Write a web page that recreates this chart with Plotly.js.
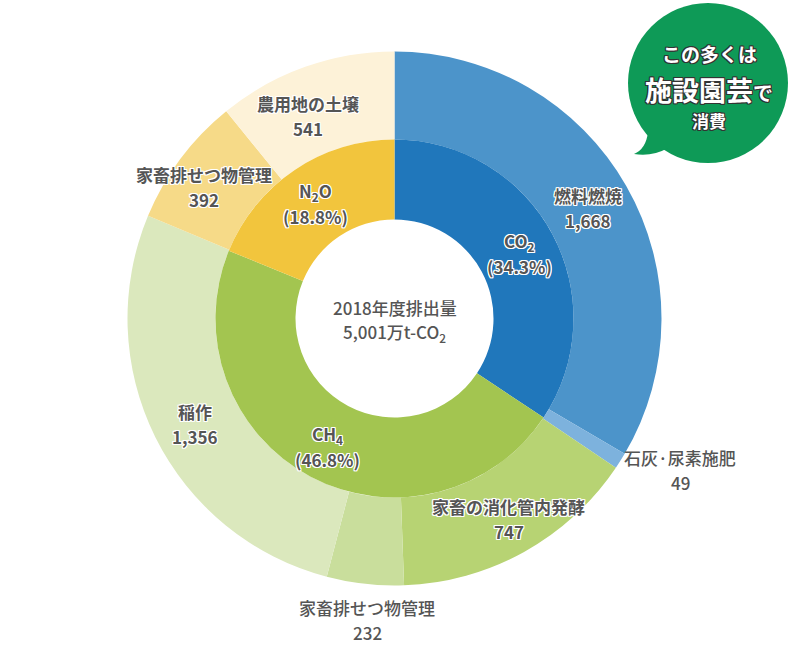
<!DOCTYPE html>
<html><head><meta charset="utf-8">
<script src="https://cdn.plot.ly/plotly-3.0.1.min.js"></script>
<style>html,body{margin:0;padding:0;background:#fff}</style>
</head><body><div id="chart" style="width:790px;height:650px"></div>
<script>
// ---- data ----
const gasLabels = ['CO<sub>2</sub>', 'CH<sub>4</sub>', 'N<sub>2</sub>O'];
const gasShares = [34.3, 46.8, 18.8];
const sourceLabels = ['燃料燃焼', '石灰·尿素施肥', '家畜の消化管内発酵', '家畜排せつ物管理', '稲作', '家畜排せつ物管理', '農用地の土壌'];
const sourceValues = [1668, 49, 747, 232, 1356, 392, 541];
const centerLines = ['2018年度排出量', '5,001万t-CO<sub>2</sub>'];
const bubbleLines = ['この多くは', '施設園芸<span style="font-size:20px">で</span>', '消費'];

// ---- styles / geometry ----
const gasColors = ['#2077bb', '#a3c550', '#f2c53d'];
const sourceColors = ['#4c94ca', '#7db2dd', '#b7d373', '#c9de9c', '#dbe8bd', '#f6da88', '#fdf2d8'];
const W = 790, H = 650, cx = 394.5, cy = 318.5, Rout = 267, Rmid = 179, Rin = 99;
const textColor = '#555555';
const FONT = '"Noto Sans CJK JP", "Noto Sans", sans-serif';
const WEIGHT = 'bold';
const halo = '1px 1px 0 #fff, -1px -1px 0 #fff, 1px -1px 0 #fff, -1px 1px 0 #fff, 0 1px 0 #fff, 0 -1px 0 #fff, 1px 0 0 #fff, -1px 0 0 #fff';
// outside labels (index -> pixel centre)
const outsideLabelPos = {1: [680, 470], 3: [367, 620]};
// small nudges of inside labels (index -> [dx, dy] px)
const labelNudge = {6: [-12, 8], 5: [-12, 2], 4: [0, 7], 2: [6, 6]};

function dom(r) {
  return {x: [(cx - r) / W, (cx + r) / W], y: [1 - (cy + r) / H, 1 - (cy - r) / H]};
}
const px = x => x / W, py = y => 1 - y / H;

const outer = {
  type: 'pie', values: sourceValues, labels: sourceValues.map((v, i) => 's' + i),
  sort: false, direction: 'clockwise', rotation: 0, hole: Rmid / Rout,
  domain: dom(Rout), textinfo: 'none', hoverinfo: 'skip', showlegend: false,
  marker: {colors: sourceColors, line: {width: 0}}
};
const inner = {
  type: 'pie', values: gasShares, labels: gasLabels,
  sort: false, direction: 'clockwise', rotation: 0, hole: Rin / Rmid,
  domain: dom(Rmid), textinfo: 'none', hoverinfo: 'skip', showlegend: false,
  marker: {colors: gasColors, line: {width: 0}}
};

const annotations = [];
function addTwoLine(x, y, l1, l2, shadow, size, weight) {
  const f = {family: FONT, size: size || 17, color: textColor, weight: weight || WEIGHT, shadow: shadow || 'none'};
  annotations.push({x: px(x), y: py(y - 12.5), xref: 'paper', yref: 'paper', text: l1, showarrow: false, xanchor: 'center', yanchor: 'middle', font: f});
  annotations.push({x: px(x), y: py(y + 12.5), xref: 'paper', yref: 'paper', text: l2, showarrow: false, xanchor: 'center', yanchor: 'middle', font: f});
}
function anglePos(values, i, r) {
  const tot = values.reduce((a, b) => a + b, 0);
  let cum = 0; for (let k = 0; k < i; k++) cum += values[k];
  const th = (cum + values[i] / 2) / tot * 2 * Math.PI;
  return [cx + r * Math.sin(th), cy - r * Math.cos(th)];
}
sourceValues.forEach((v, i) => {
  const inside = !(i in outsideLabelPos);
  let p = inside ? anglePos(sourceValues, i, (Rout + Rmid) / 2) : outsideLabelPos[i];
  const n = labelNudge[i] || [0, 0];
  addTwoLine(p[0] + n[0], p[1] + n[1], sourceLabels[i], v.toLocaleString('en-US'), inside ? halo : 'none', 17, inside ? WEIGHT : 500);
});
gasShares.forEach((v, i) => {
  const p = anglePos(gasShares, i, (Rmid + Rin) / 2 + 3);
  addTwoLine(p[0], p[1] + 3, gasLabels[i], '(' + v.toFixed(1) + '%)', halo);
});
addTwoLine(cx, cy + 1, centerLines[0], centerLines[1], 'none', 17, 500);

// bubble text
const dark = '1px 1px 0 #333, -1px -1px 0 #333, 1px -1px 0 #333, -1px 1px 0 #333, 0 1px 0 #333, 0 -1px 0 #333, 1px 0 0 #333, -1px 0 0 #333';
const bubbleY = [53, 89, 120], bubbleSize = [19, 27, 17];
bubbleLines.forEach((t, i) => {
  annotations.push({x: px(709), y: py(bubbleY[i]), xref: 'paper', yref: 'paper', text: '<b>' + t + '</b>', showarrow: false,
    xanchor: 'center', yanchor: 'middle', font: {family: FONT, size: bubbleSize[i], color: '#ffffff', shadow: dark}});
});

const green = '#0e9a57';
const shapes = [
  {type: 'circle', xref: 'paper', yref: 'paper', x0: px(628), x1: px(788), y0: py(163), y1: py(3), fillcolor: green, line: {width: 0}, layer: 'above'},
  {type: 'path', xref: 'paper', yref: 'paper', fillcolor: green, line: {width: 0}, layer: 'above',
    path: `M ${px(648)},${py(132)} Q ${px(646)},${py(149)} ${px(634)},${py(154)} Q ${px(652)},${py(157)} ${px(668)},${py(148)} Z`}
];

Plotly.newPlot('chart', [outer, inner], {
  width: W, height: H, margin: {l: 0, r: 0, t: 0, b: 0},
  paper_bgcolor: '#ffffff', plot_bgcolor: '#ffffff',
  annotations: annotations, shapes: shapes, showlegend: false
}, {displayModeBar: false, staticPlot: true});
</script></body></html>
